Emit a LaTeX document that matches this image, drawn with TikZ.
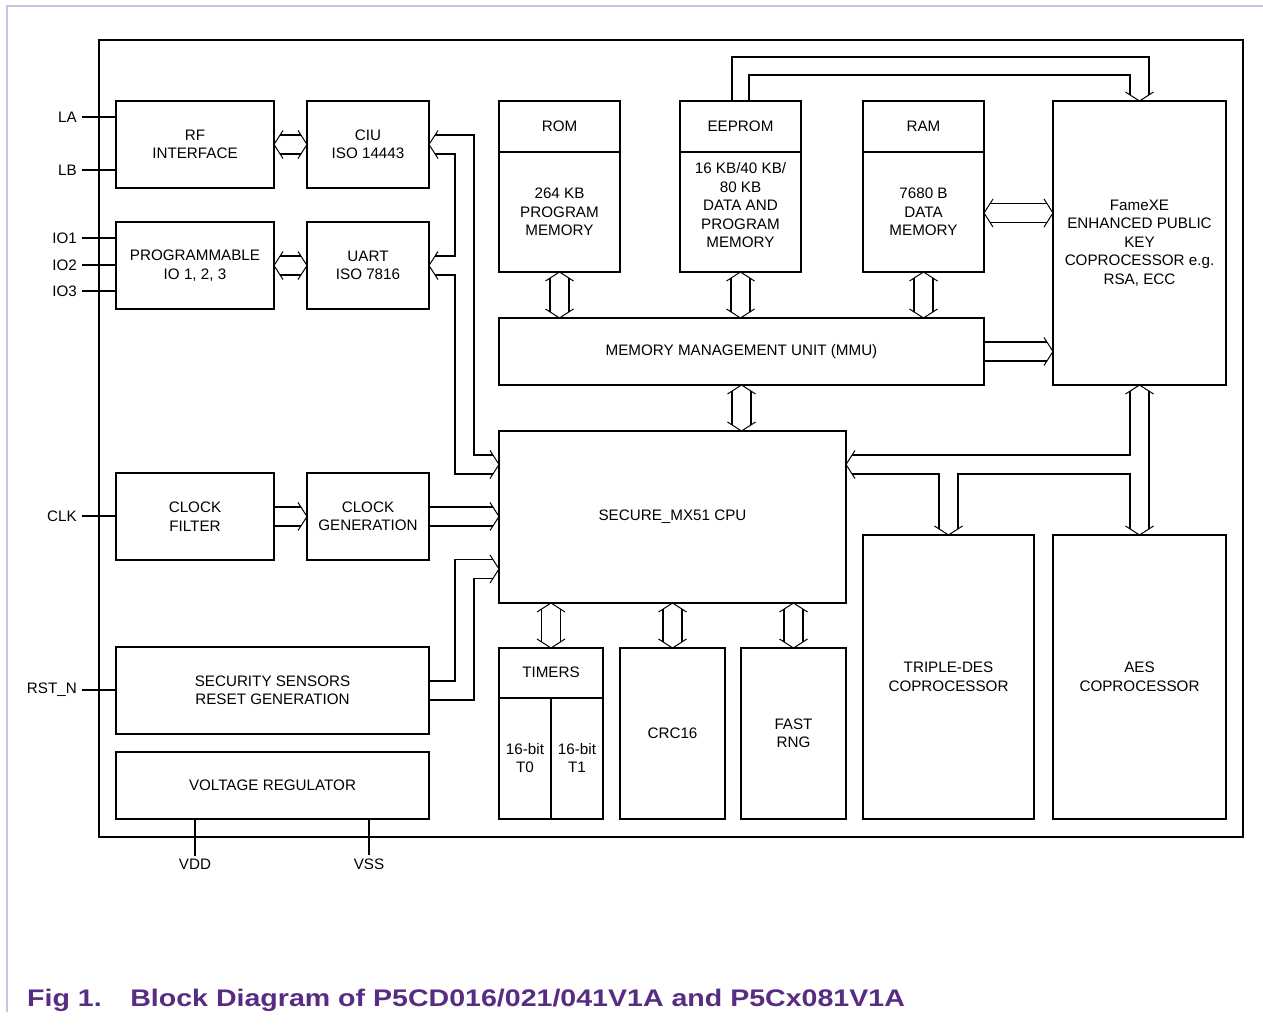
\documentclass[tikz,border=0pt]{standalone}
\usepackage{fontspec}
\usepackage{graphicx}
\setmainfont{Liberation Sans}
\usetikzlibrary{calc}
\definecolor{figpurple}{RGB}{88,44,130}
\definecolor{pageline}{RGB}{205,190,228}
\newcommand\boxfont{\fontsize{15.2}{18.5}\selectfont}
\newcommand\titlefont{\fontsize{24}{28}\selectfont\bfseries}
\def\rail{9.5}

% chevron tips of the buses
\newcommand\tipR[1]{\draw[tip] (#1) ++(-9,-14) -- (#1) -- ++(-9,14);}
\newcommand\tipL[1]{\draw[tip] (#1) ++(9,-14) -- (#1) -- ++(9,14);}
\newcommand\tipD[1]{\draw[tip] (#1) ++(-14,-9) -- (#1) -- ++(14,-9);}
\newcommand\tipU[1]{\draw[tip] (#1) ++(-14,9) -- (#1) -- ++(14,9);}
% two straight rails, #3 and #4 = gap left at each end
\newcommand\hrails[4]{%
  \draw[bus] ($(#1)+(#3,-\rail)$) -- ($(#2)+(-#4,-\rail)$);
  \draw[bus] ($(#1)+(#3,\rail)$) -- ($(#2)+(-#4,\rail)$);}
\newcommand\vrails[4]{%
  \draw[bus] ($(#1)+(-\rail,#3)$) -- ($(#2)+(-\rail,-#4)$);
  \draw[bus] ($(#1)+(\rail,#3)$) -- ($(#2)+(\rail,-#4)$);}

\begin{document}
\begin{tikzpicture}[
    x=1pt,y=-1pt,
    blk/.style={
      draw,line width=1.8pt,inner sep=0pt,outer sep=0pt,
      anchor=north west,align=center,font=\boxfont
    },
    txt/.style={
      align=center,font=\boxfont,inner sep=0pt
    },
    bus/.style={
      line width=1.8pt
    },
    tip/.style={
      line width=1pt
    },
    pinlbl/.style={
      font=\boxfont,inner sep=0pt
    }
  ]
    \useasboundingbox (0,0) rectangle (1263,1025);

    % page frame
    \draw[pageline,line width=2pt] (7,1012) -- (7,6) -- (1263,6);

    % chip outline
    \node[blk,minimum width=1144pt,minimum height=797pt] (chip) at (99,40) {};

    % left column
    \node[blk,minimum width=158pt,minimum height=87pt] (rf)   at (116,101) {RF\\INTERFACE};
    \node[blk,minimum width=122pt,minimum height=87pt] (ciu)  at (307,101) {CIU\\ISO 14443};
    \node[blk,minimum width=158pt,minimum height=87pt] (prog) at (116,222) {PROGRAMMABLE\\IO 1, 2, 3};
    \node[blk,minimum width=122pt,minimum height=87pt] (uart) at (307,222) {UART\\ISO 7816};
    \node[blk,minimum width=158pt,minimum height=87pt] (clkf) at (116,473) {CLOCK\\FILTER};
    \node[blk,minimum width=122pt,minimum height=87pt] (clkg) at (307,473) {CLOCK\\GENERATION};
    \node[blk,minimum width=313pt,minimum height=87pt] (sec)  at (116,647) {SECURITY SENSORS\\RESET GENERATION};
    \node[blk,minimum width=313pt,minimum height=67pt] (vreg) at (116,752) {VOLTAGE REGULATOR};

    % memories
    \node[blk,minimum width=121pt,minimum height=171pt] (rom)    at (499,101) {};
    \node[blk,minimum width=121pt,minimum height=171pt] (eeprom) at (680,101) {};
    \node[blk,minimum width=121pt,minimum height=171pt] (ram)    at (863,101) {};
    \foreach \m in {rom,eeprom,ram}
      \draw[bus] ([yshift=-51pt]\m.north west) -- ([yshift=-51pt]\m.north east);
    \node[txt] (romhd) at ($(rom.north)+(0,25.5)$)    {ROM};
    \node[txt] (eephd) at ($(eeprom.north)+(0,25.5)$) {EEPROM};
    \node[txt] (ramhd) at ($(ram.north)+(0,25.5)$)    {RAM};
    \node[txt] (romtx) at ($(rom.north)+(0,111)$)     {264 KB\\PROGRAM\\MEMORY};
    \node[txt] (eeptx) at ($(eeprom.north)+(0,104.5)$) {16 KB/40 KB/\\80 KB\\DATA AND\\PROGRAM\\MEMORY};
    \node[txt] (ramtx) at ($(ram.north)+(0,111)$)     {7680 B\\DATA\\MEMORY};

    \node[blk,minimum width=173pt,minimum height=284pt] (fame) at (1053,101)
      {FameXE\\ENHANCED PUBLIC\\KEY\\COPROCESSOR e.g.\\RSA, ECC};
    \node[blk,minimum width=485pt,minimum height=67pt] (mmu) at (499,318) {MEMORY MANAGEMENT UNIT (MMU)};

    % cpu and peripherals
    \node[blk,minimum width=347pt,minimum height=172pt] (cpu) at (499,431) {SECURE\_MX51 CPU};
    \node[blk,minimum width=104pt,minimum height=171pt] (tim) at (499,648) {};
    \draw[bus] ([yshift=-50pt]tim.north west) -- ([yshift=-50pt]tim.north east);
    \draw[bus] ([yshift=-50pt]tim.north) -- (tim.south);
    \node[txt] (timhd) at ($(tim.north)+(0,24)$) {TIMERS};
    \node[txt] (tzero) at ($(tim.north)+(-26,110)$) {16-bit\\T0};
    \node[txt] (tone)  at ($(tim.north)+(26,110)$)  {16-bit\\T1};
    \node[blk,minimum width=105pt,minimum height=171pt] (crc) at (620,648) {CRC16};
    \node[blk,minimum width=105pt,minimum height=171pt] (rng) at (741,648) {FAST\\RNG};
    \node[blk,minimum width=171pt,minimum height=284pt] (des) at (863,535) {TRIPLE-DES\\COPROCESSOR};
    \node[blk,minimum width=173pt,minimum height=284pt] (aes) at (1053,535) {AES\\COPROCESSOR};

    % pins
    \foreach \id/\nm/\yy/\bx in {la/LA/117/rf, lb/LB/170/rf, ioa/IO1/238/prog, iob/IO2/265/prog,
                                 ioc/IO3/291/prog, clk/CLK/516/clkf, rst/RST\_N/690/sec} {
      \node[pinlbl,anchor=east] (\id) at (77,\yy) {\nm};
      \draw[bus] ([xshift=5pt]\id.east) -- (\id.east -| \bx.west);
    }
    \node[pinlbl] (vdd) at (195,864) {VDD};
    \node[pinlbl] (vss) at (369,864) {VSS};
    \draw[bus] (vreg.south -| vdd) -- ([yshift=3pt]vdd.north);
    \draw[bus] (vreg.south -| vss) -- ([yshift=3pt]vss.north);

    % bus end points
    \coordinate (romm)   at (rom.south |- mmu.north);
    \coordinate (eepm)   at (eeprom.south |- mmu.north);
    \coordinate (ramm)   at (ram.south |- mmu.north);
    \coordinate (mmuc)   at (mmu.south |- cpu.north);
    \coordinate (cput)   at (cpu.south -| tim.north);
    \coordinate (cpuc)   at (cpu.south -| crc.north);
    \coordinate (cpur)   at (cpu.south -| rng.north);
    \coordinate (ramx)   at ($(ram.east)+(0,26.5)$);
    \coordinate (famx)   at (ramx -| fame.west);
    \coordinate (mmux)   at (mmu.east -| fame.west);
    \coordinate (clkx)   at (clkg.east -| cpu.west);
    \coordinate (cpuin)  at ($(cpu.west)+(0,-52.5)$);
    \coordinate (cpurst) at ($(cpu.west)+(0,52)$);
    \coordinate (cpuout) at ($(cpu.east)+(0,-52.5)$);

    % straight buses
    \hrails{rf.east}{ciu.west}{6}{6}     \tipL{rf.east}   \tipR{ciu.west}
    \hrails{prog.east}{uart.west}{6}{6}  \tipL{prog.east} \tipR{uart.west}
    \hrails{clkf.east}{clkg.west}{0}{6}  \tipR{clkg.west}
    \hrails{clkg.east}{clkx}{0}{6}       \tipR{clkx}
    \hrails{ramx}{famx}{6}{6}            \tipL{ramx}      \tipR{famx}
    \hrails{mmu.east}{mmux}{0}{6}        \tipR{mmux}
    \vrails{rom.south}{romm}{6}{6}       \tipU{rom.south}    \tipD{romm}
    \vrails{eeprom.south}{eepm}{6}{6}    \tipU{eeprom.south} \tipD{eepm}
    \vrails{ram.south}{ramm}{6}{6}       \tipU{ram.south}    \tipD{ramm}
    \vrails{mmu.south}{mmuc}{6}{6}       \tipU{mmu.south}    \tipD{mmuc}
    \vrails{cput}{tim.north}{6}{6}       \tipU{cput} \tipD{tim.north}
    \vrails{cpuc}{crc.north}{6}{6}       \tipU{cpuc} \tipD{crc.north}
    \vrails{cpur}{rng.north}{6}{6}       \tipU{cpur} \tipD{rng.north}

    % CIU and UART to the cpu
    \draw[bus] ($(ciu.east)+(6,-\rail)$) -| ($(cpuin)+(-25,-\rail)$) -- ($(cpuin)+(-6,-\rail)$);
    \draw[bus] ($(ciu.east)+(6,\rail)$) -| ($(uart.east)+(26,-\rail)$) -- ($(uart.east)+(6,-\rail)$);
    \draw[bus] ($(uart.east)+(6,\rail)$) -| ($(cpuin)+(-44,\rail)$) -- ($(cpuin)+(-6,\rail)$);
    \tipL{ciu.east} \tipL{uart.east} \tipR{cpuin}

    % security sensors to the cpu
    \draw[bus] ($(sec.east)+(0,-\rail)$) -| ($(cpurst)+(-44,-\rail)$) -- ($(cpurst)+(-6,-\rail)$);
    \draw[bus] ($(sec.east)+(0,\rail)$) -| ($(cpurst)+(-25,\rail)$) -- ($(cpurst)+(-6,\rail)$);
    \tipR{cpurst}

    % eeprom over the top to FameXE
    \draw[bus] ($(eeprom.north)+(-8.5,0)$) |- ($(fame.north)+(\rail,-44)$) -- ($(fame.north)+(\rail,-6)$);
    \draw[bus] ($(eeprom.north)+(8.5,0)$) |- ($(fame.north)+(-\rail,-26)$) -- ($(fame.north)+(-\rail,-6)$);
    \tipD{fame.north}

    % FameXE, cpu, triple-des and aes
    \draw[bus] ($(fame.south)+(\rail,6)$) -- ($(aes.north)+(\rail,-6)$);
    \draw[bus] ($(fame.south)+(-\rail,6)$) |- ($(cpuout)+(6,-\rail)$);
    \draw[bus] ($(cpuout)+(6,\rail)$) -| ($(des.north)+(-\rail,-6)$);
    \draw[bus] ($(des.north)+(\rail,-6)$) |- ($(aes.north |- cpuout)+(-\rail,\rail)$) -- ($(aes.north)+(-\rail,-6)$);
    \tipU{fame.south} \tipL{cpuout} \tipD{des.north} \tipD{aes.north}

    % caption
    \node[anchor=west,inner sep=0pt,text=figpurple,font=\titlefont] (title) at (27,1000)
      {\scalebox{1.19}[1]{Fig 1.\hspace{24pt}Block Diagram of P5CD016/021/041V1A and P5Cx081V1A}};
  \end{tikzpicture}
\end{document}
